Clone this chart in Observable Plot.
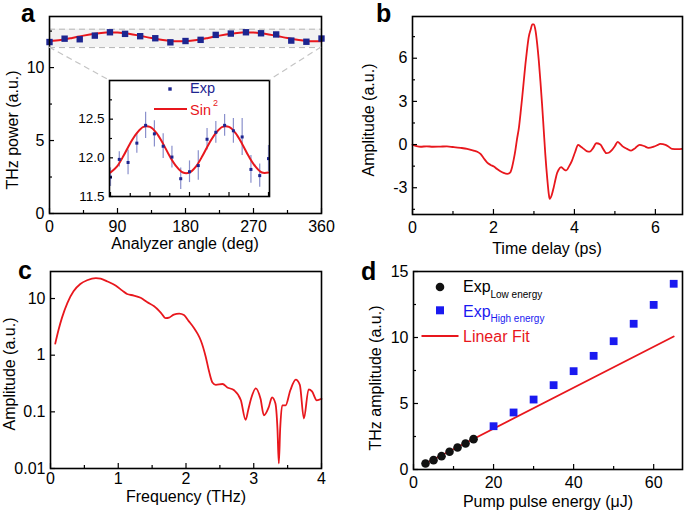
<!DOCTYPE html>
<html><head><meta charset="utf-8">
<script src="https://cdn.jsdelivr.net/npm/d3@7"></script>
<script src="https://cdn.jsdelivr.net/npm/@observablehq/plot@0.6"></script>
<style>
html,body{margin:0;padding:0;background:#fff;}
#fig{position:relative;width:685px;height:512px;overflow:hidden;font-family:"Liberation Sans",Arial,sans-serif;}
#fig > .pane{position:absolute;}
#fig svg{display:block;}
</style></head><body><div id="fig"></div>
<script>
// ---------- Panel a: polarization analysis ----------
const aAngles = [0,20,40,60,80,100,120,140,160,180,200,220,240,260,280,300,320,340,360];
const aPower  = [11.75,11.98,11.94,12.19,12.42,12.31,12.15,12.01,11.73,11.82,11.90,12.24,12.33,12.42,12.35,12.27,11.85,11.77,11.99];
const aErr    = [0.12,0.10,0.16,0.13,0.17,0.17,0.16,0.14,0.14,0.14,0.19,0.14,0.14,0.14,0.16,0.24,0.18,0.15,0.17];
const aFitAngles = [0,15,30,45,60,75,90,105,120,135,150,165,180,195,210,225,240,255,270,285,300,315,330,345,360];
const aFitPower  = [11.81,11.89,12.03,12.19,12.32,12.40,12.40,12.32,12.18,12.02,11.89,11.81,11.81,11.89,12.03,12.19,12.32,12.40,12.40,12.32,12.18,12.02,11.89,11.81,11.81];
const aZoomBand  = [11.37, 12.63];

// ---------- Panel b: time-domain waveform ----------
const bTime = [0,0.1,0.2,0.35,0.5,0.69,0.85,1.0,1.19,1.35,1.51,1.6,1.68,1.76,1.84,1.92,2.01,2.09,2.17,2.25,2.34,2.41,2.46,2.5,2.54,2.58,2.63,2.67,2.71,2.75,2.79,2.83,2.87,2.92,2.96,3.0,3.04,3.08,3.12,3.16,3.2,3.24,3.28,3.33,3.37,3.39,3.44,3.49,3.53,3.57,3.61,3.67,3.73,3.8,3.87,3.94,4.02,4.09,4.16,4.23,4.3,4.38,4.46,4.54,4.64,4.72,4.79,4.86,4.93,5.0,5.07,5.13,5.2,5.3,5.4,5.5,5.61,5.72,5.83,5.96,6.04,6.12,6.25,6.33,6.41,6.55,6.66];
const bAmp  = [0,-0.1,-0.15,-0.12,-0.15,-0.14,-0.13,-0.17,-0.23,-0.3,-0.42,-0.5,-0.65,-0.95,-1.23,-1.4,-1.53,-1.7,-1.85,-1.97,-2.04,-1.95,-1.57,-1.05,-0.42,0.35,1.2,2.2,3.29,4.45,5.6,6.6,7.45,8.0,8.35,8.35,7.9,7.0,5.83,4.4,2.83,1.1,-0.65,-2.4,-3.5,-3.77,-3.5,-2.96,-2.45,-2.0,-1.75,-1.57,-1.7,-1.8,-1.5,-1.11,-0.5,-0.02,-0.15,-0.3,-0.45,-0.49,-0.25,0.09,0.0,-0.35,-0.6,-0.55,-0.37,-0.1,0.19,0.05,-0.14,-0.3,-0.42,-0.25,-0.02,-0.1,-0.23,-0.14,-0.05,0.05,-0.02,-0.15,-0.3,-0.32,-0.3];

// ---------- Panel c: spectrum ----------
const cFreq = [0.07,0.12,0.17,0.25,0.34,0.44,0.54,0.67,0.74,0.84,0.96,1.06,1.13,1.23,1.33,1.43,1.53,1.63,1.7,1.75,1.82,1.9,1.97,2.04,2.12,2.17,2.22,2.29,2.34,2.39,2.44,2.54,2.61,2.71,2.81,2.88,2.92,2.96,3.03,3.1,3.15,3.22,3.27,3.32,3.35,3.37,3.39,3.42,3.47,3.54,3.62,3.68,3.74,3.81,3.86,3.93,4.0];
const cAmp  = [1.6,2.84,4.6,8.4,13.4,18,21,23,22.5,20,17,13.8,12,11.3,10.3,8.6,7.3,5.6,4.5,4.6,5.2,5.4,5.1,4.0,3.0,2.4,1.8,0.95,0.52,0.33,0.3,0.31,0.27,0.24,0.16,0.072,0.11,0.17,0.26,0.17,0.087,0.12,0.18,0.14,0.05,0.0123,0.05,0.13,0.13,0.24,0.37,0.3,0.076,0.25,0.23,0.16,0.17];

// ---------- Panel d: energy scaling ----------
const dLowE  = [3,5,7,9,11,13,15];
const dLowA  = [0.45,0.71,1.01,1.34,1.67,1.97,2.3];
const dHighE = [20,25,30,35,40,45,50,55,60,65];
const dHighA = [3.28,4.32,5.3,6.39,7.45,8.61,9.72,11.04,12.47,14.07];
const dFitE  = [3,65];
const dFitA  = [0.45,10.08];

// ---------- styling ----------
const RED = "#e8171d";
const NAVY = "#1d2590";
const FONT = "'Liberation Sans', Arial, sans-serif";
const fig = document.getElementById("fig");
const zip = (xs, ys, k1 = "x", k2 = "y") => xs.map((x, i) => ({[k1]: x, [k2]: ys[i]}));
const baseStyle = {background: "transparent", fontSize: "16px", fontFamily: FONT, color: "black", overflow: "visible"};
const plain = d => (d < 0 ? "-" + (-d) : String(d));

function place(node, left, top) {
  const div = document.createElement("div");
  div.className = "pane";
  div.style.left = left + "px";
  div.style.top = top + "px";
  div.appendChild(node);
  fig.appendChild(div);
}
function inwardTicks(xMajor, xMinor, yMajor, yMinor, fw, fh, big = 5, small = 3) {
  const s = {stroke: "black", strokeWidth: 1.2};
  return [
    Plot.tickX(xMajor, {x: d => d, insetTop: fh - big, ...s}),
    Plot.tickX(xMinor, {x: d => d, insetTop: fh - small, ...s}),
    Plot.tickY(yMajor, {y: d => d, insetRight: fw - big, ...s}),
    Plot.tickY(yMinor, {y: d => d, insetRight: fw - small, ...s})
  ];
}

// Panel a main
{
  const W = 340, H = 256, mL = 49, mR = 19, mT = 16, mB = 43;
  const fw = W - mL - mR, fh = H - mT - mB;
  const pts = zip(aAngles, aPower);
  const fit = zip(aFitAngles, aFitPower);
  place(Plot.plot({
    width: W, height: H, marginLeft: mL, marginRight: mR, marginTop: mT, marginBottom: mB,
    x: {domain: [0, 360]}, y: {domain: [0, 13.5]}, style: baseStyle,
    marks: [
      Plot.rect([aZoomBand], {x1: 0, x2: 360, y1: d => d[0], y2: d => d[1], fill: "#f2f2f2"}),
      Plot.ruleY(aZoomBand, {y: d => d, stroke: "#b5b5b5", strokeDasharray: "6,4", strokeWidth: 1}),
      Plot.line(fit, {x: "x", y: "y", stroke: RED, strokeWidth: 2, curve: "catmull-rom"}),
      Plot.dot(pts, {x: "x", y: "y", symbol: "square", r: 3.6, fill: NAVY, stroke: "none"}),
      ...inwardTicks([0,90,180,270,360], [45,135,225,315], [0,5,10], [2.5,7.5,12.5], fw, fh),
      Plot.axisX({ticks: [0,90,180,270,360], tickFormat: plain, tickSize: 0, tickPadding: 7, label: null}),
      Plot.axisY({ticks: [0,5,10], tickFormat: plain, tickSize: 0, tickPadding: 5, label: null}),
      Plot.frame({stroke: "black", strokeWidth: 1.6})
    ]
  }), 0, 0);
}

// Panel a inset
{
  const W = 205, H = 140, mL = 39, mR = 6, mT = 20, mB = 4;
  const fw = W - mL - mR, fh = H - mT - mB;
  const pts = aAngles.map((a, i) => ({x: a, y: aPower[i], e: aErr[i]}));
  const fit = zip(aFitAngles, aFitPower);
  place(Plot.plot({
    width: W, height: H, marginLeft: mL, marginRight: mR, marginTop: mT, marginBottom: mB,
    x: {domain: [-2.3, 362.3], axis: null}, y: {domain: [11.5, 13.0]},
    style: {...baseStyle, fontSize: "13.5px"},
    marks: [
      Plot.frame({fill: "white", stroke: "none"}),
      Plot.ruleX(pts, {x: "x", y1: d => d.y - d.e, y2: d => d.y + d.e, stroke: "#8a90cc", strokeWidth: 1.2}),
      Plot.line(fit, {x: "x", y: "y", stroke: RED, strokeWidth: 2, curve: "catmull-rom"}),
      Plot.dot(pts, {x: "x", y: "y", symbol: "square", r: 1.7, fill: NAVY, stroke: "none"}),
      ...inwardTicks([0,90,180,270,360], [45,135,225,315], [11.5,12,12.5], [11.75,12.25,12.75], fw, fh, 4, 3),
      Plot.axisY({ticks: [11.5,12.0,12.5], tickFormat: d => d.toFixed(1), tickSize: 0, tickPadding: 5, label: null}),
      Plot.frame({stroke: "black", strokeWidth: 1.6})
    ]
  }), 70, 60);
}

// Panel b
{
  const W = 345, H = 256, mL = 72, mR = 3, mT = 16, mB = 42;
  const fw = W - mL - mR, fh = H - mT - mB;
  place(Plot.plot({
    width: W, height: H, marginLeft: mL, marginRight: mR, marginTop: mT, marginBottom: mB,
    x: {domain: [0, 6.67]}, y: {domain: [-4.86, 8.9]}, style: baseStyle,
    marks: [
      Plot.line(zip(bTime, bAmp), {x: "x", y: "y", stroke: RED, strokeWidth: 1.8, curve: "monotone-x"}),
      ...inwardTicks([0,2,4,6], [1,3,5], [-3,0,3,6], [-4.5,-1.5,1.5,4.5,7.5], fw, fh),
      Plot.axisX({ticks: [0,2,4,6], tickFormat: plain, tickSize: 0, tickPadding: 7, label: null}),
      Plot.axisY({ticks: [-3,0,3,6], tickFormat: plain, tickSize: 0, tickPadding: 5, label: null}),
      Plot.frame({stroke: "black", strokeWidth: 1.6})
    ]
  }), 340, 0);
}

// Panel c
{
  const W = 340, H = 256, mL = 50, mR = 19, mT = 15, mB = 44;
  const fw = W - mL - mR, fh = H - mT - mB;
  place(Plot.plot({
    width: W, height: H, marginLeft: mL, marginRight: mR, marginTop: mT, marginBottom: mB,
    x: {domain: [0, 4]}, y: {type: "log", domain: [0.01, 30]}, style: baseStyle,
    marks: [
      Plot.line(zip(cFreq, cAmp), {x: "x", y: "y", stroke: RED, strokeWidth: 1.8, curve: "monotone-x"}),
      ...inwardTicks([0,1,2,3,4], [0.5,1.5,2.5,3.5], [0.01,0.1,1,10], [], fw, fh),
      Plot.axisX({ticks: [0,1,2,3,4], tickFormat: plain, tickSize: 0, tickPadding: 4, label: null}),
      Plot.axisY({ticks: [0.01,0.1,1,10], tickFormat: plain, tickSize: 0, tickPadding: 5, label: null}),
      Plot.frame({stroke: "black", strokeWidth: 1.6})
    ]
  }), 0, 256);
}

// Panel d
{
  const W = 345, H = 256, mL = 73, mR = 3, mT = 15, mB = 43;
  const fw = W - mL - mR, fh = H - mT - mB;
  place(Plot.plot({
    width: W, height: H, marginLeft: mL, marginRight: mR, marginTop: mT, marginBottom: mB,
    x: {domain: [0, 67.2]}, y: {domain: [0, 15]}, style: baseStyle,
    marks: [
      Plot.line(zip(dFitE, dFitA), {x: "x", y: "y", stroke: RED, strokeWidth: 1.8}),
      Plot.dot(zip(dLowE, dLowA), {x: "x", y: "y", r: 4.3, fill: "#111", stroke: "none"}),
      Plot.dot(zip(dHighE, dHighA), {x: "x", y: "y", symbol: "square", r: 4.4, fill: "#1a1af0", stroke: "none"}),
      ...inwardTicks([0,20,40,60], [10,30,50], [0,5,10,15], [2.5,7.5,12.5], fw, fh),
      Plot.axisX({ticks: [0,20,40,60], tickFormat: plain, tickSize: 0, tickPadding: 7, label: null}),
      Plot.axisY({ticks: [0,5,10,15], tickFormat: plain, tickSize: 0, tickPadding: 5, label: null}),
      Plot.frame({stroke: "black", strokeWidth: 1.6})
    ]
  }), 340, 256);
}

// Overlay: panel letters, axis titles, legends, zoom connectors
{
  const ns = "http://www.w3.org/2000/svg";
  const svg = document.createElementNS(ns, "svg");
  svg.setAttribute("width", 685); svg.setAttribute("height", 512);
  svg.style.fontFamily = FONT;
  const add = (tag, attrs, text) => {
    const el = document.createElementNS(ns, tag);
    for (const k in attrs) el.setAttribute(k, attrs[k]);
    if (text != null) el.textContent = text;
    svg.appendChild(el);
    return el;
  };
  const txt = (x, y, s, opts = {}) => add("text", {x, y, "font-size": opts.size || 16, fill: opts.fill || "black",
    "text-anchor": opts.anchor || "start", "font-weight": opts.weight || "normal",
    transform: opts.rot ? `rotate(-90 ${x} ${y})` : ""}, s);

  // zoom connectors (panel a)
  add("line", {x1: 49, y1: 47, x2: 109, y2: 80, stroke: "#c4c4c4", "stroke-dasharray": "6,4", "stroke-width": 1.2});
  add("line", {x1: 321, y1: 47, x2: 269, y2: 80, stroke: "#c4c4c4", "stroke-dasharray": "6,4", "stroke-width": 1.2});

  // panel letters
  txt(21, 22, "a", {size: 25, weight: "bold"});
  txt(376, 22, "b", {size: 25, weight: "bold"});
  txt(18, 279, "c", {size: 25, weight: "bold"});
  txt(361, 280, "d", {size: 25, weight: "bold"});

  // axis titles
  txt(18, 130, "THz power (a.u.)", {anchor: "middle", rot: true});
  txt(185, 249, "Analyzer angle (deg)", {anchor: "middle"});
  txt(374, 120, "Amplitude (a.u.)", {anchor: "middle", rot: true});
  txt(547, 254, "Time delay (ps)", {anchor: "middle"});
  txt(15, 374, "Amplitude (a.u.)", {anchor: "middle", rot: true});
  txt(186, 502, "Frequency (THz)", {anchor: "middle"});
  txt(381, 378, "THz amplitude (a.u.)", {anchor: "middle", rot: true});
  txt(548, 507, "Pump pulse energy (\u03BCJ)", {anchor: "middle"});

  // inset legend (panel a)
  add("rect", {x: 168.3, y: 87.3, width: 3.4, height: 3.4, fill: NAVY});
  txt(190, 93, "Exp", {size: 14.5, fill: NAVY});
  add("line", {x1: 154, y1: 109, x2: 187, y2: 109, stroke: RED, "stroke-width": 2});
  txt(190, 115, "Sin", {size: 14.5, fill: RED});
  txt(213, 106, "2", {size: 9, fill: RED});

  // panel d legend
  add("circle", {cx: 440, cy: 287, r: 4.3, fill: "#111"});
  txt(463, 292, "Exp", {size: 16});
  txt(490.5, 298, "Low energy", {size: 10});
  add("rect", {x: 436, y: 306.3, width: 8, height: 8, fill: "#1a1af0"});
  txt(463, 317, "Exp", {size: 16, fill: "#1a1af0"});
  txt(490.5, 322, "High energy", {size: 10, fill: "#1a1af0"});
  add("line", {x1: 421.5, y1: 336, x2: 458.5, y2: 336, stroke: RED, "stroke-width": 2});
  txt(463, 341.5, "Linear Fit", {size: 16, fill: RED});

  const div = document.createElement("div");
  div.className = "pane";
  div.style.left = "0px"; div.style.top = "0px"; div.style.pointerEvents = "none";
  div.appendChild(svg);
  fig.appendChild(div);
}
</script>
</body></html>
